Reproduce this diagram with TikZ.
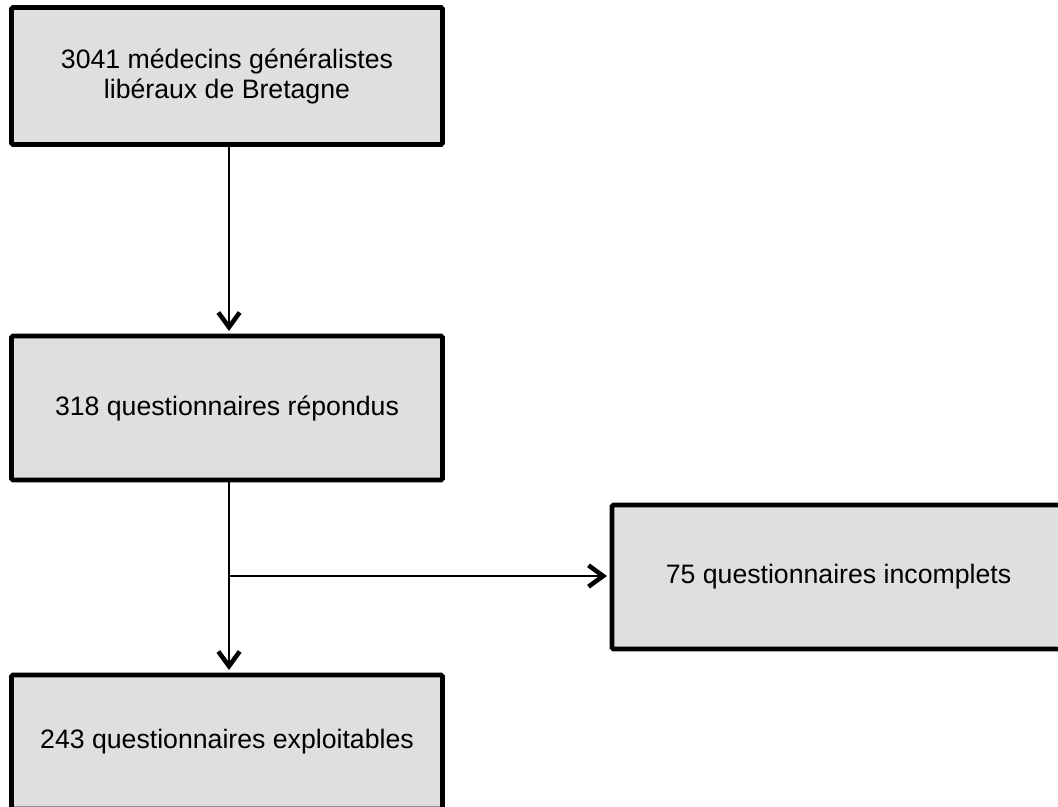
\documentclass[tikz,border=0pt]{standalone}
\usepackage{fontspec}
\setmainfont{Liberation Sans}
\usetikzlibrary{arrows.meta}
\begin{document}
\begin{tikzpicture}[x=0.75pt,y=-0.75pt,
  box/.style={draw=black, line width=3.5pt, fill=gray!25, rounded corners=1pt,
    align=center, inner sep=0pt,
    font=\fontsize{20pt}{22.5pt}\selectfont},
  conn/.style={line width=1.6pt, black,
    -{Straight Barb[length=11pt, width=16pt, line width=3.4pt]}, shorten >=2pt}
]
\useasboundingbox (0,0) rectangle (1058,807);
\node[box, minimum width=323.25pt, minimum height=102.75pt] (b1) at (227,76)
  {3041 médecins généralistes\\libéraux de Bretagne};
\node[box, minimum width=323.25pt, minimum height=108pt] (b2) at (227,408)
  {318 questionnaires répondus};
\node[box, minimum width=339.75pt, minimum height=108pt] (b3) at (838.5,577)
  {75 questionnaires incomplets};
\node[box, minimum width=323.25pt, minimum height=100.5pt] (b4) at (227,742)
  {243 questionnaires exploitables};
\coordinate (v) at (229,0);
\coordinate (br) at (229,576);
\draw[conn] (b1.south -| v) -- (b2.north -| v);
\draw[conn] (b2.south -| v) -- (b4.north -| v);
\draw[conn] (br) -- (br -| b3.west);
\end{tikzpicture}
\end{document}
